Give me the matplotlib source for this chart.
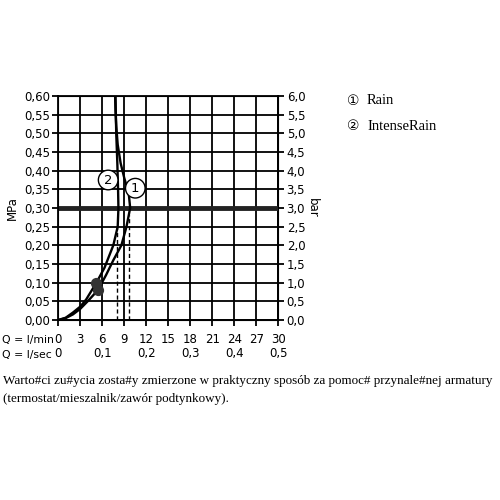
import matplotlib
matplotlib.use('Agg')
import matplotlib.pyplot as plt
import numpy as np

# flow (l/min) vs pressure (MPa)
rain_q = [0, 1.0, 2.0, 3.0, 4.0, 5.4, 6.5, 7.5, 8.6, 9.3, 9.8, 9.6, 9.0, 8.5, 8.1, 7.9, 7.8, 7.75]
rain_p = [0, 0.005, 0.015, 0.03, 0.05, 0.08, 0.12, 0.16, 0.20, 0.25, 0.30, 0.34, 0.38, 0.42, 0.47, 0.52, 0.56, 0.60]
intense_q = [0, 1.0, 2.0, 3.0, 3.8, 5.2, 6.3, 7.5, 8.1, 8.2, 8.15, 8.05, 7.9, 7.8]
intense_p = [0, 0.006, 0.02, 0.036, 0.055, 0.10, 0.14, 0.20, 0.25, 0.30, 0.35, 0.42, 0.50, 0.60]
dots_q = [5.4, 5.2]
dots_p = [0.08, 0.10]
dash_q = [8.0, 9.7]
dash_top = [0.25, 0.28]
ref_p = 0.30

lmin_ticks = [0, 3, 6, 9, 12, 15, 18, 21, 24, 27, 30]
lsec_ticks = [0, 6, 12, 18, 24, 30]
lsec_labels = ['0', '0,1', '0,2', '0,3', '0,4', '0,5']
mpa_ticks = np.round(np.arange(0, 0.601, 0.05), 2)
mpa_labels = ['%.2f' % v for v in mpa_ticks]
bar_labels = ['%.1f' % (v * 10) for v in mpa_ticks]

caption = ['Warto#ci zu#ycia zosta#y zmierzone w praktyczny sposób za pomoc# przynale#nej armatury',
           '(termostat/mieszalnik/zawór podtynkowy).']
legend_marks = ['\u2460', '\u2461']
legend_names = ['Rain', 'IntenseRain']

fig = plt.figure(figsize=(5, 5), dpi=100)
ax = fig.add_axes([0.1166, 0.36, 0.44, 0.448])
ax.set_xlim(0, 30)
ax.set_ylim(0, 0.6)

tickfont = 8.5
ax.set_xticks(lmin_ticks)
ax.set_xticklabels([])
ax.set_yticks(mpa_ticks)
ax.set_yticklabels([s.replace('.', ',') for s in mpa_labels], fontsize=tickfont)
ax.tick_params(direction='out', length=4, width=1.3, color='black', pad=2)
ax.grid(True, color='black', linewidth=1.3)
for s in ax.spines.values():
    s.set_linewidth(1.3)

ax2 = ax.twinx()
ax2.set_ylim(0, 0.6)
ax2.set_yticks(mpa_ticks)
ax2.set_yticklabels([s.replace('.', ',') for s in bar_labels], fontsize=tickfont)
ax2.tick_params(direction='out', length=4, width=1.3, pad=2)

ax.set_ylabel('MPa', fontsize=tickfont, labelpad=4)
ax2.set_ylabel('bar', fontsize=tickfont, rotation=270, labelpad=10)

ax.axhline(ref_p, color='#222222', linewidth=3.5, zorder=3)
ax.plot(rain_q, rain_p, color='black', linewidth=1.7, zorder=4)
ax.plot(intense_q, intense_p, color='black', linewidth=1.7, zorder=4)
ax.scatter(dots_q, dots_p, s=50, color='#333333', zorder=5)
for q, top in zip(dash_q, dash_top):
    ax.plot([q, q], [0, top], color='black', linewidth=1.0, linestyle=(0, (3, 2)), zorder=3)

for txt, q, p in [('1', 10.5, 0.353), ('2', 6.8, 0.375)]:
    ax.text(q, p, txt, fontsize=9.5, ha='center', va='center', zorder=6,
            bbox=dict(boxstyle='circle,pad=0.25', fc='white', ec='black', lw=1.0))

# bottom label rows
trans = ax.get_xaxis_transform()
for q in lmin_ticks:
    ax.text(q, -0.085, str(q), transform=trans, ha='center', va='center', fontsize=tickfont)
for q, lab in zip(lsec_ticks, lsec_labels):
    ax.text(q, -0.15, lab, transform=trans, ha='center', va='center', fontsize=tickfont)
fig.text(0.004, 1 - 340 / 500, 'Q = l/min', ha='left', va='center', fontsize=7.8)
fig.text(0.004, 1 - 355 / 500, 'Q = l/sec', ha='left', va='center', fontsize=7.8)

serif = ['Liberation Serif', 'DejaVu Sans']
for i, (mk, name) in enumerate(zip(legend_marks, legend_names)):
    y = 1 - (101 + 25 * i) / 500
    fig.text(0.694, y, mk, ha='left', va='center', fontsize=10, family='DejaVu Sans')
    fig.text(0.734, y, name, ha='left', va='center', fontsize=10.5, family=serif)

fig.text(0.006, 1 - 381 / 500, caption[0], ha='left', va='center', fontsize=9.45, family=serif)
fig.text(0.006, 1 - 399 / 500, caption[1], ha='left', va='center', fontsize=9.45, family=serif)

fig.savefig('out.png', dpi=100)
